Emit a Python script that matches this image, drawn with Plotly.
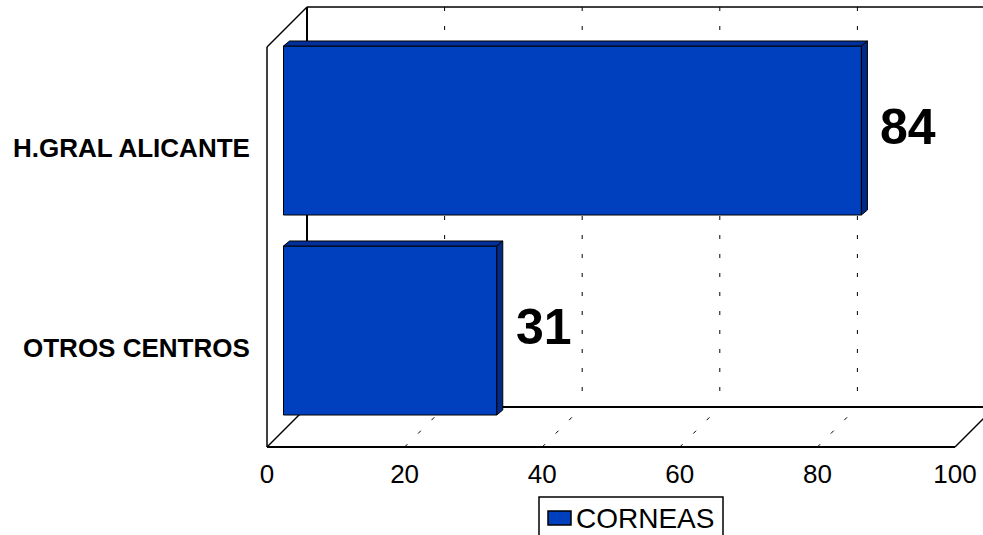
import plotly.graph_objects as go

# ---- data ----
categories = ["OTROS CENTROS", "H.GRAL ALICANTE"]
values = [31, 84]
series_name = "CORNEAS"
tick_values = [0, 20, 40, 60, 80, 100]
tick_labels = ["0", "20", "40", "60", "80", "100"]

# ---- geometry (pixels) ----
W, H = 983, 535
S = 6.88                  # px per value unit
BAR_X0 = 283.5            # pixel of value 0 on the bar plane
FRONT_X0 = 267            # pixel of value 0 on the front plane
DX, DY = 40, 40           # depth offset of the 3D box
F_TOP, F_BOT = 47, 447
B_TOP, B_BOT = F_TOP - DY, F_BOT - DY
CAT_PX = 200.0            # px per category
POS0_PX = 330.5           # pixel center of category index 0
BAR_W = 0.845
DEP_X, DEP_Y = 6, 5       # bar depth in px

FONT = "Liberation Sans, Arial, sans-serif"
FRONT_COL = "#0040BF"
SIDE_COL = "#002A85"
TOP_COL = "#00309A"

positions = list(range(len(categories)))

fig = go.Figure()

fig.add_trace(go.Bar(
    x=values, y=positions, orientation="h", width=BAR_W, name=series_name,
    marker=dict(color=FRONT_COL, line=dict(color="black", width=1)),
    showlegend=False, hoverinfo="x",
))

dx = DEP_X / S
dy = DEP_Y / CAT_PX
h = BAR_W / 2
for v, p in zip(values, positions):
    # top face
    fig.add_trace(go.Scatter(
        x=[0, v, v + dx, dx, 0], y=[p + h, p + h, p + h + dy, p + h + dy, p + h],
        mode="lines", fill="toself", fillcolor=TOP_COL,
        line=dict(color="black", width=1), showlegend=False, hoverinfo="skip"))
    # side face
    fig.add_trace(go.Scatter(
        x=[v, v, v + dx, v + dx, v], y=[p + h, p - h, p - h + dy, p + h + dy, p + h],
        mode="lines", fill="toself", fillcolor=SIDE_COL,
        line=dict(color="black", width=1), showlegend=False, hoverinfo="skip"))

# invisible trace so that tick axis is drawn
fig.add_trace(go.Scatter(x=[tick_values[0]], y=[0], xaxis="x2", mode="markers",
                         marker=dict(opacity=0), showlegend=False, hoverinfo="skip"))

def px(x):
    return x / W

def py(y):
    return (H - y) / H

shapes = []

def line(x0, y0, x1, y1, width=2, dash="solid"):
    shapes.append(dict(type="line", xref="paper", yref="paper",
                       x0=px(x0), y0=py(y0), x1=px(x1), y1=py(y1),
                       line=dict(color="black", width=width, dash=dash),
                       layer="below"))

fx_max = FRONT_X0 + tick_values[-1] * S
bx0 = FRONT_X0 + DX
bx_max = fx_max + DX
# gridlines
for v in tick_values[1:-1]:
    fx = FRONT_X0 + v * S
    bx = fx + DX
    line(bx, B_TOP, bx, B_BOT, width=1, dash="4px,15px")
    line(fx, F_BOT, bx, B_BOT, width=1, dash="4px,15px")
# frame
line(bx0, B_TOP, bx_max, B_TOP, width=1.5)
line(bx0, B_BOT, bx_max, B_BOT, width=2)
line(bx0, B_TOP, bx0, B_BOT, width=2)
line(FRONT_X0, F_TOP, FRONT_X0, F_BOT, width=1.5)
line(FRONT_X0, F_TOP, bx0, B_TOP, width=1.5)
line(FRONT_X0, F_BOT, bx0, B_BOT, width=1.5)
line(FRONT_X0, F_BOT, fx_max, F_BOT, width=2)
line(fx_max, F_BOT, bx_max, B_BOT, width=1.5)

# legend box (custom, Excel-style)
LG_X0, LG_Y0, LG_X1, LG_Y1 = 539, 497, 723, 545
shapes.append(dict(type="rect", xref="paper", yref="paper",
                   x0=px(LG_X0), y0=py(LG_Y0), x1=px(LG_X1), y1=py(LG_Y1),
                   line=dict(color="black", width=1.5), fillcolor="white"))
shapes.append(dict(type="rect", xref="paper", yref="paper",
                   x0=px(548), y0=py(511), x1=px(571), y1=py(525),
                   line=dict(color="black", width=1.5), fillcolor=FRONT_COL))

annotations = []
for cat, p in zip(categories, positions):
    annotations.append(dict(
        text=cat, xref="paper", x=px(252), xanchor="right",
        yref="y", y=p, yanchor="middle", yshift=-17, showarrow=False,
        font=dict(family=FONT, size=26, color="black", weight="bold")))
for v, p in zip(values, positions):
    annotations.append(dict(
        text=str(v), xref="x", x=v + dx, xanchor="left", xshift=11,
        yref="y", y=p, yanchor="middle", yshift=4, showarrow=False,
        font=dict(family=FONT, size=50, color="black", weight="bold")))
annotations.append(dict(
    text=series_name, xref="paper", x=px(574), xanchor="left",
    yref="paper", y=py(518), yanchor="middle", showarrow=False,
    font=dict(family=FONT, size=28, color="black")))

fig.update_layout(
    width=W, height=H,
    margin=dict(l=0, r=0, t=0, b=0, autoexpand=False),
    paper_bgcolor="white", plot_bgcolor="white",
    font=dict(family=FONT, color="black"),
    xaxis=dict(range=[(0 - BAR_X0) / S, (W - BAR_X0) / S], domain=[0, 1],
               showgrid=False, zeroline=False, showticklabels=False,
               showline=False, ticks=""),
    xaxis2=dict(range=[(0 - FRONT_X0) / S, (W - FRONT_X0) / S], overlaying="x",
                anchor="free", position=py(F_BOT), side="bottom",
                tickvals=tick_values, ticktext=tick_labels, ticks="",
                ticklabelstandoff=9,
                showgrid=False, zeroline=False, showline=False,
                tickfont=dict(family=FONT, size=26, color="black")),
    yaxis=dict(range=[(POS0_PX - H) / CAT_PX, POS0_PX / CAT_PX], domain=[0, 1],
               showgrid=False, zeroline=False, showticklabels=False,
               showline=False, ticks=""),
    shapes=shapes,
    annotations=annotations,
    showlegend=False,
)

fig.write_html(
    "out.html",
    config={"displayModeBar": False},
    post_script="document.body.style.margin='0';",
)
